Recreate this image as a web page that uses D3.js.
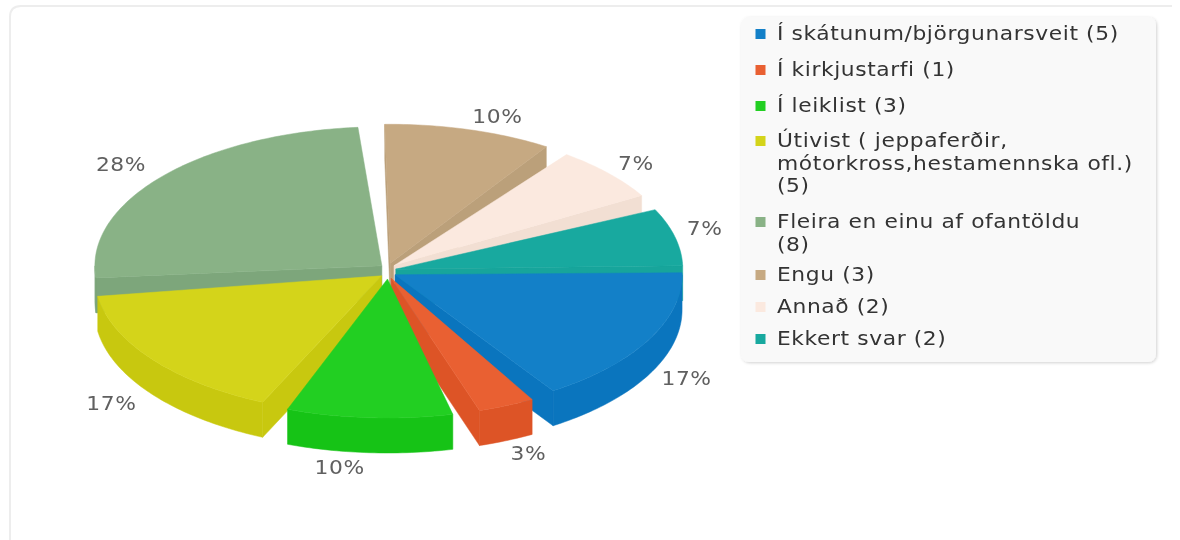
<html>
<head>
	<title>pie</title>
	<script src="https://d3js.org/d3.v7.min.js"></script>
	<style>
		html, body { margin: 0; padding: 0; background: #fff; overflow: hidden; }
		svg { display: block; filter: blur(0.45px); }
		text { font-family: "DejaVu Sans", sans-serif; letter-spacing: 0.55px; }
	</style>
</head>
<body>
<div id="dataviz"></div>
<script>

	//the answers and how many picked each one
	var categories = ['Í skátunum/björgunarsveit', 'Í kirkjustarfi', 'Í leiklist', 'Útivist ( jeppaferðir, mótorkross,hestamennska ofl.)', 'Fleira en einu af ofantöldu', 'Engu', 'Annað', 'Ekkert svar'];
	var counts = [5, 1, 3, 5, 8, 3, 2, 2];
	var percentLabels = ['17%', '3%', '10%', '17%', '28%', '10%', '7%', '7%'];

	var topColors = ['#1380c8', '#e96032', '#22cf22', '#d4d41a', '#89b286', '#c6a982', '#fbe9df', '#18a99f'];
	var wallColors = ['#0a75be', '#dd5426', '#16c316', '#c8c80f', '#7da67b', '#bba07a', '#f2dfd3', '#17a59b'];

	//small corrections, in degrees, for the slice edges of the original
	var trimStart = [-1.6, -0.9, 0.4, 0.2, 0, -1.2, -1, 0.3];
	var trimEnd = [-1.4, -0.85, -0.4, 0, -1.4, -1.5, -1.2, 1.3];
	//nudges for the percent labels
	var labelNudgeX = [-2, 4, -27, -5, -7, 16, -6, -14];
	var labelNudgeY = [0, 1, 1, 3, -1, 4, 2, -5];

	//display variables
	var width = 1180;
	var height = 540;
	var cx = 388;
	var cy = 271;
	var rx = 287;
	var ry = 139;
	var depth = 35;
	var explode = 8;
	var padDeg = 3.5;
	var fontSize = 20;
	var textStretch = 1.09;
	var deg = Math.PI / 180;

	var svg = d3.select('#dataviz')
		.append('svg')
		.attr('width', width)
		.attr('height', height);

	//card behind the chart
	svg.append('path')
		.attr('d', 'M10,' + height + 'V17Q10,6 21,6H1172')
		.attr('fill', 'none')
		.attr('stroke', '#ededed')
		.attr('stroke-width', 2);

	//d3 counts from 12 o'clock, the chart starts at 3 o'clock
	var pie = d3.pie()
		.sort(null)
		.startAngle(Math.PI / 2)
		.endAngle(Math.PI * 2.5)
		.padAngle(padDeg * deg);

	var slices = pie(counts).map(function (d, i) {
		var a0 = d.startAngle + d.padAngle / 2 - Math.PI / 2 - deg + trimStart[i] * deg;
		var a1 = d.endAngle - d.padAngle / 2 - Math.PI / 2 - deg + trimEnd[i] * deg;
		var mid = (a0 + a1) / 2;
		return {
			i: i,
			a0: a0,
			a1: a1,
			mid: mid,
			ox: cx + explode * Math.cos(mid),
			oy: cy + explode * Math.sin(mid)
		};
	});

	function rim(s, a, drop) {
		return [s.ox + rx * Math.cos(a), s.oy + ry * Math.sin(a) + (drop || 0)];
	}

	function angles(a0, a1) {
		var n = Math.max(2, Math.ceil((a1 - a0) * 60));
		return d3.range(n + 1).map(function (k) { return a0 + (a1 - a0) * k / n; });
	}

	var line = d3.line();

	//flat side of a slice, from the middle out to the rim
	function sideWall(s, a) {
		var p = rim(s, a);
		return line([[s.ox, s.oy], p, [p[0], p[1] + depth], [s.ox, s.oy + depth]]) + 'Z';
	}

	function outerWall(s) {
		var a0 = Math.max(s.a0, 0);
		var a1 = Math.min(s.a1, Math.PI);
		if (a1 <= a0) return null;
		return d3.area()
			.x(function (a) { return rim(s, a)[0]; })
			.y0(function (a) { return rim(s, a)[1]; })
			.y1(function (a) { return rim(s, a, depth)[1]; })(angles(a0, a1));
	}

	function topFace(s) {
		var pts = [[s.ox, s.oy]].concat(angles(s.a0, s.a1).map(function (a) { return rim(s, a); }));
		return line(pts) + 'Z';
	}

	//back slices first
	var order = slices.slice().sort(function (a, b) { return Math.sin(a.mid) - Math.sin(b.mid); });

	order.forEach(function (s) {
		var g = svg.append('g');
		var wall = wallColors[s.i];

		//only the sides that turn towards us
		if (Math.cos(s.a1) > 0) {
			g.append('path').attr('d', sideWall(s, s.a1)).attr('fill', wall).attr('stroke', wall).attr('stroke-width', 0.5);
		}
		if (Math.cos(s.a0) < 0) {
			g.append('path').attr('d', sideWall(s, s.a0)).attr('fill', wall).attr('stroke', wall).attr('stroke-width', 0.5);
		}
		var o = outerWall(s);
		if (o) {
			g.append('path').attr('d', o).attr('fill', wall).attr('stroke', wall).attr('stroke-width', 0.5);
		}
		g.append('path').attr('d', topFace(s)).attr('fill', topColors[s.i]).attr('stroke', topColors[s.i]).attr('stroke-width', 0.5);
	});

	//percent labels
	svg.selectAll('.pct')
		.data(slices)
		.enter()
		.append('text')
		.attr('class', 'pct')
		.attr('transform', function (s) {
			var sin = Math.sin(s.mid);
			var x = cx + 340 * Math.cos(s.mid) + labelNudgeX[s.i];
			var y = cy + 165 * sin + (sin > 0 ? 30 : 0) + 7 + labelNudgeY[s.i];
			return 'translate(' + x + ',' + y + ') scale(' + textStretch + ',1)';
		})
		.attr('text-anchor', 'middle')
		.attr('font-size', fontSize)
		.attr('fill', '#606060')
		.text(function (s) { return percentLabels[s.i]; });

	//legend box
	var defs = svg.append('defs');
	var shadow = defs.append('filter').attr('id', 'legendShadow').attr('x', '-5%').attr('y', '-5%').attr('width', '110%').attr('height', '110%');
	shadow.append('feDropShadow').attr('dx', 1).attr('dy', 1).attr('stdDeviation', 1.5).attr('flood-color', '#000').attr('flood-opacity', 0.18);

	svg.append('rect')
		.attr('x', 741)
		.attr('y', 17)
		.attr('width', 415)
		.attr('height', 345)
		.attr('rx', 8)
		.attr('fill', '#f9f9f9')
		.attr('filter', 'url(#legendShadow)');

	//the long names wrap, the count drops to its own line
	var legendText = categories.map(function (c, i) {
		var n = '(' + counts[i] + ')';
		if (i === 3) return ['Útivist ( jeppaferðir,', 'mótorkross,hestamennska ofl.)', n];
		if (i === 4) return [c, n];
		return [c + ' ' + n];
	});

	var rowGaps = [36, 36, 35, 81, 53, 32, 32];
	var rowY = 33;
	legendText.forEach(function (lines, i) {
		svg.append('rect')
			.attr('x', 755.5)
			.attr('y', rowY - 4)
			.attr('width', 10)
			.attr('height', 10)
			.attr('fill', topColors[i]);

		lines.forEach(function (t, k) {
			svg.append('text')
				.attr('transform', 'translate(777,' + (rowY + 7 + k * 22.7) + ') scale(' + textStretch + ',1)')
				.attr('font-size', fontSize)
				.attr('fill', '#333')
				.text(t);
		});
		if (i < rowGaps.length) rowY += rowGaps[i];
	});

</script>
</body>
</html>
